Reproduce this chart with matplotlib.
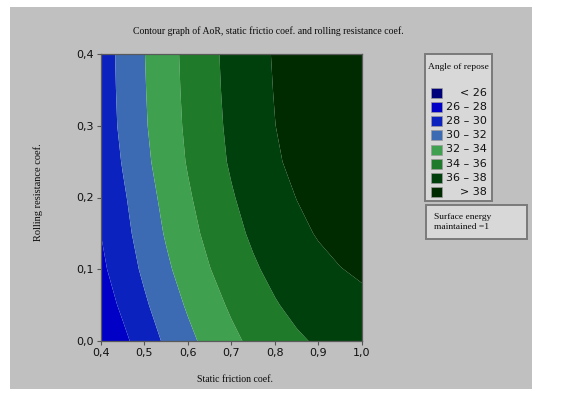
import numpy as np
import matplotlib
matplotlib.use("Agg")
import matplotlib.pyplot as plt
from matplotlib.patches import Rectangle
from matplotlib.ticker import FuncFormatter

# grid of static friction coef. (x) and rolling resistance coef. (y)
static_friction = [0.40, 0.45, 0.50, 0.55, 0.60, 0.65, 0.70, 0.75, 0.80, 0.85, 0.90, 0.95, 1.00]
rolling_resistance = [0.0, 0.05, 0.1, 0.15, 0.2, 0.25, 0.3, 0.35, 0.4]

aor_y000 = [26.10, 27.53, 28.99, 30.32, 31.53, 32.62, 33.58, 34.42, 35.15, 35.74, 36.22, 36.70, 37.10]
aor_y005 = [26.95, 28.36, 29.73, 31.04, 32.23, 33.31, 34.27, 35.12, 35.86, 36.48, 36.98, 37.37, 37.65]
aor_y010 = [27.62, 28.98, 30.36, 31.68, 32.87, 33.95, 34.92, 35.76, 36.49, 37.10, 37.59, 37.96, 38.22]
aor_y015 = [28.02, 29.40, 30.85, 32.18, 33.39, 34.48, 35.44, 36.29, 37.02, 37.63, 38.12, 38.48, 38.73]
aor_y020 = [28.30, 29.73, 31.20, 32.55, 33.78, 34.88, 35.85, 36.70, 37.43, 38.03, 38.50, 38.85, 39.08]
aor_y025 = [28.54, 30.12, 31.58, 32.93, 34.14, 35.24, 36.21, 37.06, 37.79, 38.40, 38.88, 39.24, 39.48]
aor_y030 = [28.85, 30.39, 31.81, 33.12, 34.32, 35.40, 36.37, 37.23, 37.98, 38.61, 39.14, 39.55, 39.84]
aor_y035 = [28.94, 30.48, 31.90, 33.22, 34.42, 35.50, 36.47, 37.33, 38.07, 38.70, 39.22, 39.62, 39.91]
aor_y040 = [29.00, 30.54, 31.97, 33.29, 34.49, 35.57, 36.54, 37.40, 38.14, 38.76, 39.27, 39.67, 39.95]

levels = [20, 26, 28, 30, 32, 34, 36, 38, 45]
band_labels = ["< 26", "26 – 28", "28 – 30", "30 – 32", "32 – 34", "34 – 36", "36 – 38", "> 38"]
band_colors = ["#00007a", "#0000c6", "#0c22be", "#3d6bb3", "#3fa04f", "#1f7a29", "#00400c", "#002a00"]

W, H = 561, 394
fig = plt.figure(figsize=(W / 100, H / 100), dpi=100)
fig.patch.set_facecolor("white")


def fx(px):
    return px / W


def fy(py):
    return 1 - py / H


def box(x0, y0, x1, y1, **kw):
    fig.patches.append(Rectangle((fx(x0), fy(y1)), (x1 - x0) / W, (y1 - y0) / H,
                                 transform=fig.transFigure, **kw))


# grey panel behind everything
box(10, 7, 532, 389, facecolor="#c0c0c0", edgecolor="none", zorder=-5)

ax = fig.add_axes([fx(101), fy(341), (362 - 101) / W, (341 - 54) / H])
ax.set_zorder(2)
X, Y = np.meshgrid(static_friction, rolling_resistance)
Z = np.array([aor_y000, aor_y005, aor_y010, aor_y015, aor_y020,
              aor_y025, aor_y030, aor_y035, aor_y040])
ax.contourf(X, Y, Z, levels=levels, colors=band_colors, antialiased=True)
ax.set_xlim(0.4, 1.0)
ax.set_ylim(0.0, 0.4)
ax.set_xticks(np.arange(0.4, 1.01, 0.1))
ax.set_yticks(np.arange(0.0, 0.41, 0.1))
comma = FuncFormatter(lambda v, p: f"{v:.1f}".replace(".", ","))
ax.xaxis.set_major_formatter(comma)
ax.yaxis.set_major_formatter(comma)
ax.tick_params(length=3, width=0.8, color="#555555", labelsize=8, labelcolor="#111111", pad=2)
for s in ax.spines.values():
    s.set_color("#5a5a5a")
    s.set_linewidth(0.9)

serif = "Liberation Serif"
fig.text(fx(268), fy(31), "Contour graph of AoR, static frictio coef. and rolling resistance coef.",
         ha="center", va="center", fontsize=7, family=serif, color="#0a0a0a")
fig.text(fx(235), fy(379), "Static friction coef.", ha="center", va="center",
         fontsize=7, family=serif, color="#0a0a0a")
fig.text(fx(38), fy(192), "Rolling resistance coef.", ha="center", va="center",
         rotation=90, fontsize=7.5, family=serif, color="#0a0a0a")

# legend box
box(425, 54, 492, 201, facecolor="#d8d8d8", edgecolor="#7a7a7a", linewidth=1.4, zorder=1)
fig.text(fx(458), fy(67), "Angle of repose", ha="center", va="center",
         fontsize=6.8, family=serif, color="#0a0a0a", zorder=2)
for i, (lab, col) in enumerate(zip(band_labels, band_colors)):
    yc = 92.7 + i * 14.2
    box(430.5, yc - 5, 441.5, yc + 5, facecolor=col, edgecolor="#9a9a9a", linewidth=0.5, zorder=2)
    if lab.startswith(("<", ">")):
        fig.text(fx(487), fy(yc), lab, ha="right", va="center", fontsize=8,
                 color="#111111", zorder=3)
    else:
        fig.text(fx(445.5), fy(yc), lab, ha="left", va="center", fontsize=8,
                 color="#111111", zorder=3)

box(425.5, 205, 527, 239, facecolor="#d8d8d8", edgecolor="#7a7a7a", linewidth=1.4, zorder=1)
fig.text(fx(434), fy(222), "Surface energy\nmaintained =1", ha="left", va="center",
         fontsize=6.8, family=serif, color="#0a0a0a", linespacing=1.25, zorder=2)

fig.savefig("out.png", dpi=100)
